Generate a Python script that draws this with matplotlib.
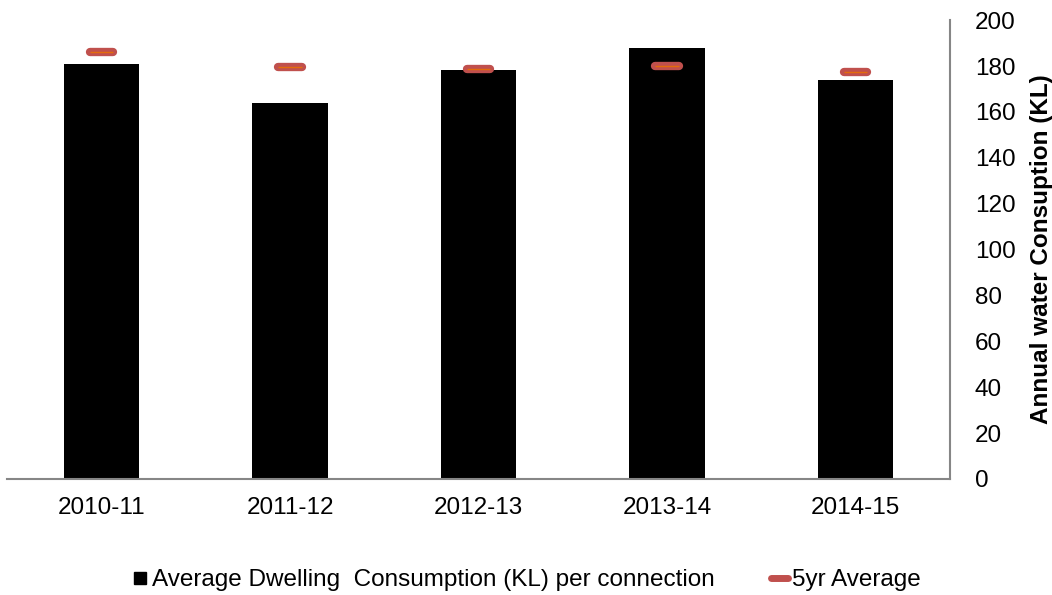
import numpy as np
import matplotlib.pyplot as plt
from matplotlib.lines import Line2D

plt.rcParams['font.family'] = ['Liberation Sans', 'DejaVu Sans']

years = ['2010-11', '2011-12', '2012-13', '2013-14', '2014-15']
dwelling = [181, 164, 178.5, 188, 174]
avg_5yr = [186.2, 179.5, 178.7, 180.2, 177.3]

FS = 17.5

fig = plt.figure(figsize=(10.52, 5.95), dpi=100)
ax = fig.add_axes([0.007, 0.195, 0.896, 0.771])

x = np.arange(len(years))
ax.bar(x, dwelling, width=0.4, color='black', zorder=2)

# 5yr average markers: thick red rounded dash with a thin orange line inside
half = 0.062
ax.hlines(avg_5yr, x - half, x + half, colors='#c0504d', linewidth=6,
          capstyle='round', zorder=3)
ax.hlines(avg_5yr, x - half, x + half, colors='#e46c0a', linewidth=1,
          zorder=4)

ax.set_xlim(-0.5, 4.5)
ax.set_ylim(0, 200)
ax.set_xticks(x)
ax.set_xticklabels(years, fontsize=FS)
ax.set_yticks(np.arange(0, 201, 20))
ax.yaxis.tick_right()
ax.yaxis.set_label_position('right')
ax.tick_params(axis='both', length=0, labelsize=FS)
ax.tick_params(axis='x', pad=13)
ax.tick_params(axis='y', pad=18)
ax.set_ylabel('Annual water Consuption (KL)', fontsize=FS, fontweight='bold',
              labelpad=10)

for s in ['top', 'left']:
    ax.spines[s].set_visible(False)
for s in ['bottom', 'right']:
    ax.spines[s].set_color('#868686')
    ax.spines[s].set_linewidth(1.5)

handles = [
    Line2D([], [], marker='s', color='none', markerfacecolor='black',
           markeredgecolor='black', markersize=9),
    Line2D([], [], color='#c0504d', linewidth=5, solid_capstyle='round'),
]
labels = ['Average Dwelling  Consumption (KL) per connection', '5yr Average']
fig.legend(handles, labels, loc='center', bbox_to_anchor=(0.5, 0.025),
           ncol=2, frameon=False, fontsize=FS, handlelength=0.7,
           handletextpad=0.15, columnspacing=2.3)

fig.savefig('out.png', dpi=100)
